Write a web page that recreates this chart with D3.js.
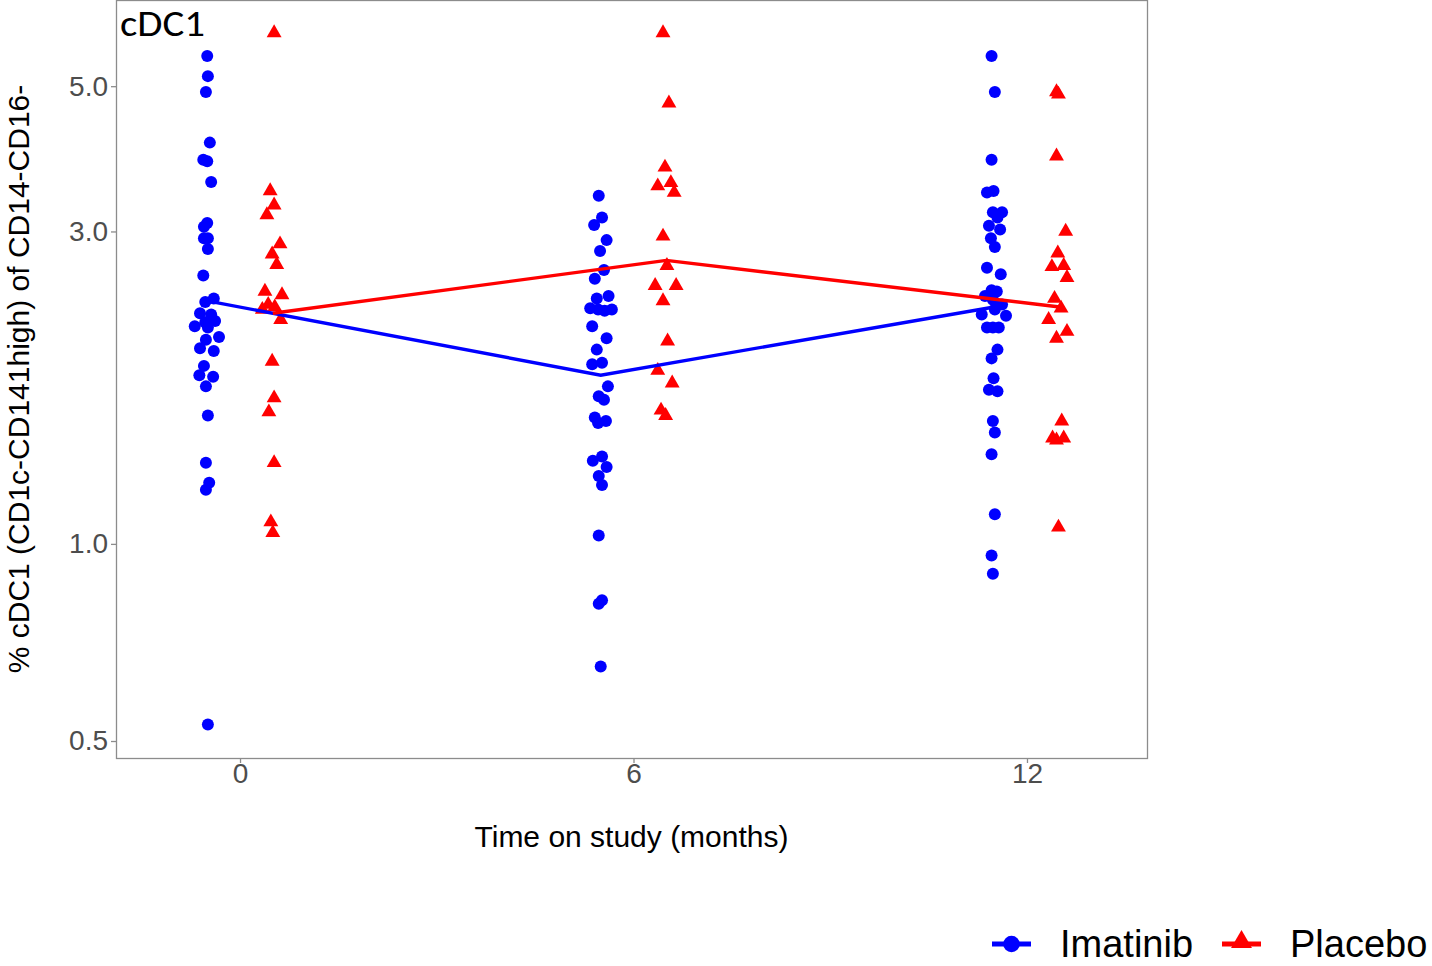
<!DOCTYPE html>
<html><head><meta charset="utf-8">
<script src="https://cdn.jsdelivr.net/npm/d3@7"></script>
<style>html,body{margin:0;padding:0;background:#fff}</style>
</head><body>
<svg id="chart" width="1432" height="966" xmlns="http://www.w3.org/2000/svg"></svg>
<script>
// ---- data ----
const timePoints = [0, 6, 12];
const xTicks = [0, 6, 12];
const yTicks = [0.5, 1.0, 3.0, 5.0];
const seriesNames = ["Imatinib", "Placebo"];
const seriesColors = ["#0000FF", "#FF0000"];

// Imatinib values per time point (0, 6, 12 months)
const imatinibT0 = [5.56,5.18,4.90,4.10,3.86,3.84,3.57,3.09,3.05,2.93,2.93,2.82,2.57,2.34,2.37,2.25,2.24,2.15,2.18,2.19,2.14,2.07,2.05,1.99,1.97,1.87,1.81,1.80,1.74,1.57,1.33,1.24,1.21,0.53];
const imatinibT0Jitter = [0.00,0.01,-0.02,0.04,-0.06,0.00,0.06,0.00,-0.05,0.01,-0.05,0.01,-0.06,-0.03,0.10,-0.11,0.06,-0.19,-0.03,0.12,0.01,0.18,-0.02,-0.11,0.10,-0.05,-0.12,0.09,-0.02,0.01,-0.02,0.03,-0.02,0.01];
const imatinibT6 = [3.40,3.15,3.07,2.91,2.80,2.62,2.54,2.39,2.37,2.29,2.28,2.27,2.28,2.15,2.06,1.98,1.88,1.89,1.74,1.68,1.66,1.56,1.54,1.53,1.36,1.34,1.31,1.27,1.23,1.03,0.82,0.81,0.65];
const imatinibT6Jitter = [-0.03,0.02,-0.10,0.09,-0.01,0.05,-0.09,0.12,-0.06,-0.16,-0.04,0.06,0.17,-0.13,0.09,-0.06,-0.13,0.02,0.11,-0.03,0.05,-0.09,0.08,-0.04,0.02,-0.12,0.09,-0.03,0.02,-0.03,0.02,-0.03,0.00];
const imatinibT12 = [5.56,4.90,3.86,3.44,3.46,3.21,3.21,3.15,3.06,3.02,2.93,2.84,2.64,2.58,2.44,2.43,2.39,2.36,2.32,2.24,2.28,2.23,2.14,2.14,2.14,1.98,1.92,1.79,1.72,1.71,1.54,1.48,1.37,1.11,0.96,0.90];
const imatinibT12Jitter = [-0.04,0.01,-0.04,-0.11,-0.01,-0.02,0.12,0.05,-0.08,0.09,-0.05,0.01,-0.11,0.10,-0.04,0.04,-0.14,-0.02,0.12,-0.19,0.01,0.18,-0.11,-0.02,0.07,0.05,-0.04,-0.01,-0.08,0.05,-0.02,0.01,-0.04,0.01,-0.04,-0.02];

// Placebo values per time point
const placeboT0 = [6.03,3.46,3.29,3.18,2.87,2.77,2.67,2.43,2.40,2.32,2.28,2.30,2.20,1.90,1.67,1.59,1.33,1.08,1.04];
const placeboT0Jitter = [0.02,-0.04,0.02,-0.09,0.11,-0.01,0.06,-0.12,0.14,-0.07,-0.16,0.03,0.12,-0.01,0.02,-0.06,0.02,-0.03,0.00];
const placeboT6 = [6.03,4.71,3.76,3.52,3.56,3.44,2.95,2.66,2.48,2.48,2.35,2.04,1.84,1.76,1.60,1.57];
const placeboT6Jitter = [-0.05,0.04,-0.02,-0.13,0.07,0.12,-0.05,0.01,-0.17,0.15,-0.05,0.02,-0.13,0.09,-0.08,-0.01];
const placeboT12 = [4.90,4.86,3.91,3.00,2.78,2.65,2.66,2.55,2.37,2.29,2.20,2.11,2.06,1.54,1.45,1.44,1.45,1.06];
const placeboT12Jitter = [-0.05,-0.02,-0.05,0.09,-0.03,-0.12,0.06,0.11,-0.08,0.02,-0.17,0.11,-0.05,0.03,-0.11,-0.05,0.06,-0.02];

// group summary lines
const imatinibLine = [2.35, 1.81, 2.30];
const placeboLine = [2.25, 2.71, 2.30];

// ---- build ----
const imatinibValues = [imatinibT0, imatinibT6, imatinibT12];
const imatinibJitter = [imatinibT0Jitter, imatinibT6Jitter, imatinibT12Jitter];
const placeboValues = [placeboT0, placeboT6, placeboT12];
const placeboJitter = [placeboT0Jitter, placeboT6Jitter, placeboT12Jitter];
const dodge = [-0.5, 0.5];

function flatten(vals, jit, gi) {
  const out = [];
  vals.forEach((arr, ti) => arr.forEach((v, k) => out.push({t: timePoints[ti] + dodge[gi] + jit[ti][k], v})));
  return out;
}
const imPts = flatten(imatinibValues, imatinibJitter, 0);
const plPts = flatten(placeboValues, placeboJitter, 1);

const svg = d3.select("#chart");
const L = 116, R = 1147, T = 0, B = 758;
const x = d3.scaleLinear().domain([-1.891, 13.83]).range([L, R]);
const y = d3.scaleLog().domain([0.471, 6.77]).range([B, T]);

const FONT = "Liberation Sans, Arial, Helvetica, sans-serif";

// y axis
const ya = svg.append("g").attr("transform", `translate(${L},0)`)
  .call(d3.axisLeft(y).tickValues(yTicks).tickFormat(d3.format(".1f")).tickSize(5).tickPadding(3));
ya.select(".domain").remove();
ya.selectAll(".tick line").attr("stroke", "#8c8c8c").attr("stroke-width", 1.3);
ya.selectAll(".tick text").attr("fill", "#4d4d4d").style("font-family", FONT).style("font-size", "28px");

// x axis
const xa = svg.append("g").attr("transform", `translate(0,${B})`)
  .call(d3.axisBottom(x).tickValues(xTicks).tickFormat(d3.format("d")).tickSize(5).tickPadding(0));
xa.select(".domain").remove();
xa.selectAll(".tick line").attr("stroke", "#8c8c8c").attr("stroke-width", 1.3);
xa.selectAll(".tick text").attr("fill", "#4d4d4d").style("font-family", FONT).style("font-size", "28px");

// points
const tri = d3.symbol().type(d3.symbolTriangle).size(96);
svg.append("g").selectAll("circle").data(imPts).join("circle")
  .attr("cx", d => x(d.t)).attr("cy", d => y(d.v)).attr("r", 6).attr("fill", seriesColors[0]);
svg.append("g").selectAll("path").data(plPts).join("path")
  .attr("d", tri).attr("transform", d => `translate(${x(d.t)},${y(d.v)})`).attr("fill", seriesColors[1]);

// lines
const line = d3.line().x(d => x(d.t)).y(d => y(d.v));
[imatinibLine, placeboLine].forEach((arr, gi) => {
  svg.append("path")
    .datum(arr.map((v, i) => ({t: timePoints[i] + dodge[gi], v})))
    .attr("d", line).attr("fill", "none").attr("stroke", seriesColors[gi]).attr("stroke-width", 3.4);
});

// frame
svg.append("rect").attr("x", L + 0.5).attr("y", T + 0.5).attr("width", R - L).attr("height", B - T)
  .attr("fill", "none").attr("stroke", "#8c8c8c").attr("stroke-width", 1.3);

// panel label
svg.append("text").attr("x", 120).attr("y", 36).text("cDC1")
  .attr("textLength", 85).attr("lengthAdjust", "spacingAndGlyphs")
  .style("font-family", "Carlito, Calibri, 'Noto Sans', sans-serif").style("font-size", "37px").attr("fill", "#000");

// axis titles
svg.append("text").attr("x", (L + R) / 2).attr("y", 847).attr("text-anchor", "middle")
  .style("font-family", FONT).style("font-size", "30px").attr("fill", "#000").text("Time on study (months)");
svg.append("text").attr("transform", `translate(29,${(T + B) / 2}) rotate(-90)`).attr("text-anchor", "middle")
  .style("font-family", FONT).style("font-size", "30px").attr("fill", "#000").text("% cDC1 (CD1c-CD141high) of CD14-CD16-");

// legend
const lg = svg.append("g");
const legendItems = [
  {name: seriesNames[0], color: seriesColors[0], x0: 992, tx: 1060, shape: "circle"},
  {name: seriesNames[1], color: seriesColors[1], x0: 1222, tx: 1290, shape: "triangle"}
];
legendItems.forEach(it => {
  lg.append("line").attr("x1", it.x0).attr("x2", it.x0 + 39).attr("y1", 944).attr("y2", 944)
    .attr("stroke", it.color).attr("stroke-width", 5);
  if (it.shape === "circle") {
    lg.append("circle").attr("cx", it.x0 + 19.5).attr("cy", 944).attr("r", 8.3).attr("fill", it.color);
  } else {
    lg.append("path").attr("d", d3.symbol().type(d3.symbolTriangle).size(190)())
      .attr("transform", `translate(${it.x0 + 19.5},${942})`).attr("fill", it.color);
  }
  lg.append("text").attr("x", it.tx).attr("y", 957).text(it.name)
    .style("font-family", FONT).style("font-size", "38px").attr("fill", "#000");
});
</script>
</body></html>
